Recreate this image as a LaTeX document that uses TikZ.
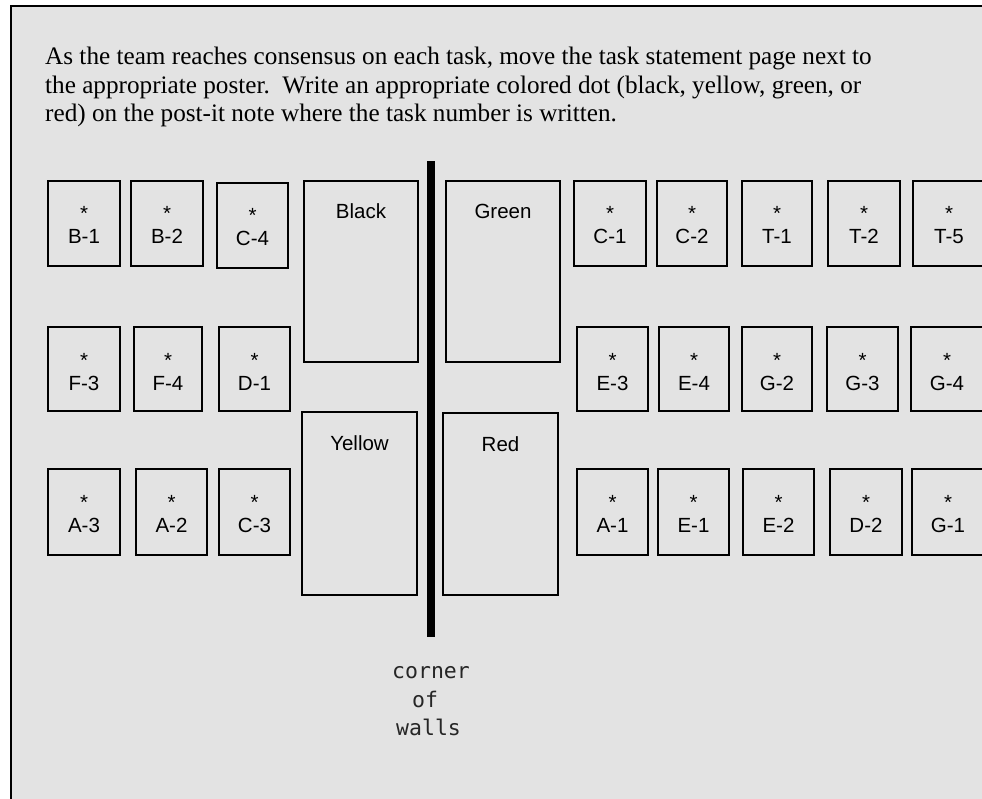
\documentclass[tikz,border=0pt]{standalone}
\usepackage{fontspec}
\setmainfont{Liberation Serif}
\newfontfamily\arialf{Liberation Sans}
\newfontfamily\monof{DejaVu Sans Mono}
\definecolor{bggray}{RGB}{227,227,227}
\tikzset{
  postit/.style={draw=black, line width=2pt, fill=bggray, anchor=north west, inner sep=0pt, outer sep=0pt},
  poster/.style={draw=black, line width=2pt, fill=bggray, anchor=north west, inner sep=0pt, outer sep=0pt},
  lbl/.style={font=\arialf\fontsize{20.5}{23}\selectfont, anchor=base, inner sep=0pt},
  star/.style={font=\arialf\fontsize{20.5}{23}\selectfont, anchor=base, inner sep=0pt},
  para/.style={font=\fontsize{25.2}{28.5}\selectfont, anchor=base west, inner sep=0pt},
  wallnote/.style={font=\monof\fontsize{21.5}{28}\selectfont, anchor=base west, inner sep=0pt, text=black!85},
}
\newcommand{\postitbox}[6]{% name, x1, y1, x2, y2, text
  \node[postit, minimum width={#4-#2}, minimum height={#5-#3}] (#1) at (#2,#3) {};
  \node[star] (#1s) at ([yshift=-40pt]#1.north) {*};
  \node[lbl] (#1l) at ([yshift=-63pt]#1.north) {#6};
}
\newcommand{\posterbox}[6]{%
  \node[poster, minimum width={#4-#2}, minimum height={#5-#3}] (#1) at (#2,#3) {};
  \node[lbl] (#1l) at ([yshift=-38pt]#1.north) {#6};
}
\begin{document}
\begin{tikzpicture}[x=1pt, y=-1pt]
\useasboundingbox (0,0) rectangle (982,799);
% frame
\draw[line width=2pt, fill=bggray] (11,6.5) rectangle (1000,820);
% paragraph
\node[para] (p1) at (45,65) {As the team reaches consensus on each task, move the task statement page next to};
\node[para] (p2) at (45,93.5) {the appropriate poster.\ \ Write an appropriate colored dot (black, yellow, green, or};
\node[para] (p3) at (45,122) {red) on the post-it note where the task number is written.};
% wall
\fill[black] (427,161) rectangle (435,637);
% posters
\posterbox{black}{304}{181}{418}{362}{Black}
\posterbox{green}{446}{181}{560}{362}{Green}
\posterbox{yellow}{302}{412}{417}{595}{Yellow}
\posterbox{red}{443}{413}{558}{595}{Red}
% top row
\postitbox{b1}{48}{181}{120}{266}{B-1}
\postitbox{b2}{131}{181}{203}{266}{B-2}
\postitbox{c4}{217}{183}{288}{268}{C-4}
\postitbox{c1}{574}{181}{646}{266}{C-1}
\postitbox{c2}{657}{181}{727}{266}{C-2}
\postitbox{t1}{742}{181}{812}{266}{T-1}
\postitbox{t2}{828}{181}{900}{266}{T-2}
\postitbox{t5}{913}{181}{985}{266}{T-5}
% middle row
\postitbox{f3}{48}{327}{120}{411}{F-3}
\postitbox{f4}{134}{327}{202}{411}{F-4}
\postitbox{d1}{219}{327}{290}{411}{D-1}
\postitbox{e3}{577}{327}{648}{411}{E-3}
\postitbox{e4}{659}{327}{729}{411}{E-4}
\postitbox{g2}{742}{327}{812}{411}{G-2}
\postitbox{g3}{827}{327}{898}{411}{G-3}
\postitbox{g4}{911}{327}{983}{411}{G-4}
% bottom row
\postitbox{a3}{48}{469}{120}{555}{A-3}
\postitbox{a2}{136}{469}{207}{555}{A-2}
\postitbox{c3}{219}{469}{290}{555}{C-3}
\postitbox{a1}{577}{469}{648}{555}{A-1}
\postitbox{e1}{658}{469}{729}{555}{E-1}
\postitbox{e2}{743}{469}{814}{555}{E-2}
\postitbox{d2}{830}{469}{902}{555}{D-2}
\postitbox{g1}{912}{469}{984}{555}{G-1}
% corner label
\node[wallnote] (w1) at (392,678) {corner};
\node[wallnote] (w2) at (412,707) {of};
\node[wallnote] (w3) at (396,735) {walls};
\end{tikzpicture}
\end{document}
